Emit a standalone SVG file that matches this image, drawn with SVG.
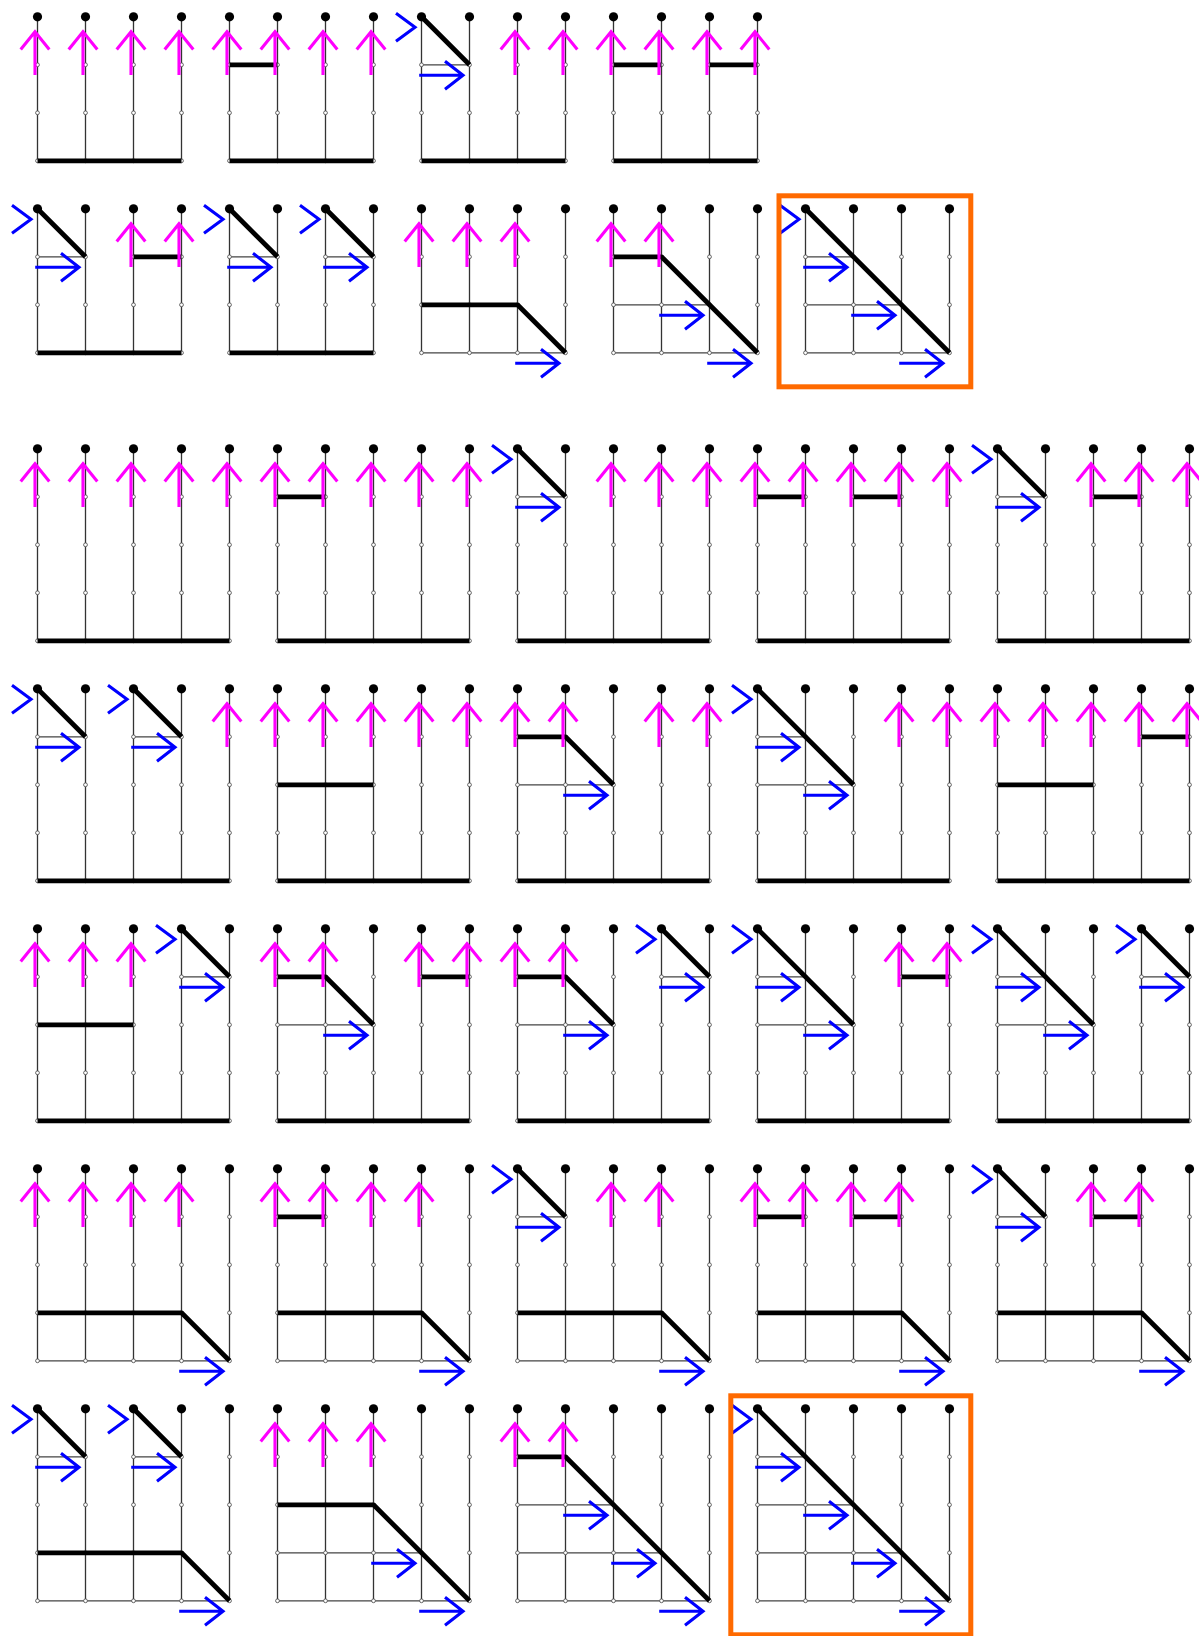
<svg xmlns="http://www.w3.org/2000/svg" xmlns:xlink="http://www.w3.org/1999/xlink" width="1199" height="1636" viewBox="0 0 1199 1636">
<style>
.v{stroke:#333;stroke-width:1.3;fill:none}
.tn{stroke:#444;stroke-width:1.3;fill:none}
.tk{stroke:#000;stroke-width:4.8;fill:none;stroke-linejoin:round}
.c{fill:#fff;stroke:#555;stroke-width:0.9}
.d{fill:#000}
.pk{stroke:#FF00FF;stroke-width:3.1;fill:none}
.bl{stroke:#0000FF;stroke-width:3.1;fill:none}
.ob{stroke:#FF6A00;stroke-width:5;fill:none}
</style>
<defs>
<g id="v4" class="v"><path d="M0,0V144M48,0V144M96,0V144M144,0V144"/></g>
<g id="c4">
<g class="c"><circle cx="0" cy="48" r="1.9"/><circle cx="48" cy="48" r="1.9"/><circle cx="96" cy="48" r="1.9"/><circle cx="144" cy="48" r="1.9"/><circle cx="0" cy="96" r="1.9"/><circle cx="48" cy="96" r="1.9"/><circle cx="96" cy="96" r="1.9"/><circle cx="144" cy="96" r="1.9"/><circle cx="0" cy="144" r="1.9"/><circle cx="48" cy="144" r="1.9"/><circle cx="96" cy="144" r="1.9"/><circle cx="144" cy="144" r="1.9"/></g>
<g class="d"><circle cx="0" cy="0" r="4.6"/><circle cx="48" cy="0" r="4.6"/><circle cx="96" cy="0" r="4.6"/><circle cx="144" cy="0" r="4.6"/></g>
</g>
<g id="v5" class="v"><path d="M0,0V192M48,0V192M96,0V192M144,0V192M192,0V192"/></g>
<g id="c5">
<g class="c"><circle cx="0" cy="48" r="1.9"/><circle cx="48" cy="48" r="1.9"/><circle cx="96" cy="48" r="1.9"/><circle cx="144" cy="48" r="1.9"/><circle cx="192" cy="48" r="1.9"/><circle cx="0" cy="96" r="1.9"/><circle cx="48" cy="96" r="1.9"/><circle cx="96" cy="96" r="1.9"/><circle cx="144" cy="96" r="1.9"/><circle cx="192" cy="96" r="1.9"/><circle cx="0" cy="144" r="1.9"/><circle cx="48" cy="144" r="1.9"/><circle cx="96" cy="144" r="1.9"/><circle cx="144" cy="144" r="1.9"/><circle cx="192" cy="144" r="1.9"/><circle cx="0" cy="192" r="1.9"/><circle cx="48" cy="192" r="1.9"/><circle cx="96" cy="192" r="1.9"/><circle cx="144" cy="192" r="1.9"/><circle cx="192" cy="192" r="1.9"/></g>
<g class="d"><circle cx="0" cy="0" r="4.6"/><circle cx="48" cy="0" r="4.6"/><circle cx="96" cy="0" r="4.6"/><circle cx="144" cy="0" r="4.6"/><circle cx="192" cy="0" r="4.6"/></g>
</g>
<path id="pa" class="pk" d="M-2.5,58.3V15M-16.8,32.6L-2.5,15L11.8,32.6"/>
<path id="ba" class="bl" d="M-2.3,10.5H41.5M23.5,-3.5L41.5,10.5L23.5,24.5"/>
<path id="bc" class="bl" d="M-25.5,-3.5L-6.5,10.5L-25.5,24.5"/>
</defs>

<!-- Row A -->
<g id="A1" transform="translate(37.5,16.8)">
<use href="#v4"/><use href="#c4"/>
<path class="tk" d="M0,144H144"/>
<use href="#pa" x="0"/><use href="#pa" x="48"/><use href="#pa" x="96"/><use href="#pa" x="144"/>
</g>
<g id="A2" transform="translate(229.5,16.8)">
<use href="#v4"/><use href="#c4"/>
<path class="tk" d="M0,48H48M0,144H144"/>
<use href="#pa" x="0"/><use href="#pa" x="48"/><use href="#pa" x="96"/><use href="#pa" x="144"/>
</g>
<g id="A3" transform="translate(421.5,16.8)">
<use href="#v4"/><path class="tn" d="M0,48H48"/><use href="#c4"/>
<path class="tk" d="M0,0L48,48M0,144H144"/>
<use href="#bc" x="0"/><use href="#ba" x="0" y="48"/>
<use href="#pa" x="96"/><use href="#pa" x="144"/>
</g>
<g id="A4" transform="translate(613.5,16.8)">
<use href="#v4"/><use href="#c4"/>
<path class="tk" d="M0,48H48M96,48H144M0,144H144"/>
<use href="#pa" x="0"/><use href="#pa" x="48"/><use href="#pa" x="96"/><use href="#pa" x="144"/>
</g>

<!-- Row B -->
<g id="B1" transform="translate(37.5,208.8)">
<use href="#v4"/><path class="tn" d="M0,48H48"/><use href="#c4"/>
<path class="tk" d="M0,0L48,48M96,48H144M0,144H144"/>
<use href="#bc" x="0"/><use href="#ba" x="0" y="48"/>
<use href="#pa" x="96"/><use href="#pa" x="144"/>
</g>
<g id="B2" transform="translate(229.5,208.8)">
<use href="#v4"/><path class="tn" d="M0,48H48M96,48H144"/><use href="#c4"/>
<path class="tk" d="M0,0L48,48M96,0L144,48M0,144H144"/>
<use href="#bc" x="0"/><use href="#ba" x="0" y="48"/>
<use href="#bc" x="96"/><use href="#ba" x="96" y="48"/>
</g>
<g id="B3" transform="translate(421.5,208.8)">
<use href="#v4"/><path class="tn" d="M0,144H144"/><use href="#c4"/>
<path class="tk" d="M0,96H96L144,144"/>
<use href="#pa" x="0"/><use href="#pa" x="48"/><use href="#pa" x="96"/>
<use href="#ba" x="96" y="144"/>
</g>
<g id="B4" transform="translate(613.5,208.8)">
<use href="#v4"/><path class="tn" d="M0,96H96M0,144H144"/><use href="#c4"/>
<path class="tk" d="M0,48H48L144,144"/>
<use href="#pa" x="0"/><use href="#pa" x="48"/>
<use href="#ba" x="48" y="96"/><use href="#ba" x="96" y="144"/>
</g>
<g id="B5" transform="translate(805.5,208.8)">
<use href="#v4"/><path class="tn" d="M0,48H48M0,96H96M0,144H144"/><use href="#c4"/>
<path class="tk" d="M0,0L144,144"/>
<use href="#bc" x="0"/><use href="#ba" x="0" y="48"/><use href="#ba" x="48" y="96"/><use href="#ba" x="96" y="144"/>
<rect class="ob" x="-26.5" y="-13" width="191.8" height="191"/>
</g>

<!-- Row C -->
<g id="C1" transform="translate(37.5,448.8)">
<use href="#v5"/><use href="#c5"/>
<path class="tk" d="M0,192H192"/>
<use href="#pa" x="0"/><use href="#pa" x="48"/><use href="#pa" x="96"/><use href="#pa" x="144"/><use href="#pa" x="192"/>
</g>
<g id="C2" transform="translate(277.5,448.8)">
<use href="#v5"/><use href="#c5"/>
<path class="tk" d="M0,48H48M0,192H192"/>
<use href="#pa" x="0"/><use href="#pa" x="48"/><use href="#pa" x="96"/><use href="#pa" x="144"/><use href="#pa" x="192"/>
</g>
<g id="C3" transform="translate(517.5,448.8)">
<use href="#v5"/><path class="tn" d="M0,48H48"/><use href="#c5"/>
<path class="tk" d="M0,0L48,48M0,192H192"/>
<use href="#bc" x="0"/><use href="#ba" x="0" y="48"/>
<use href="#pa" x="96"/><use href="#pa" x="144"/><use href="#pa" x="192"/>
</g>
<g id="C4" transform="translate(757.5,448.8)">
<use href="#v5"/><use href="#c5"/>
<path class="tk" d="M0,48H48M96,48H144M0,192H192"/>
<use href="#pa" x="0"/><use href="#pa" x="48"/><use href="#pa" x="96"/><use href="#pa" x="144"/><use href="#pa" x="192"/>
</g>
<g id="C5" transform="translate(997.5,448.8)">
<use href="#v5"/><path class="tn" d="M0,48H48"/><use href="#c5"/>
<path class="tk" d="M0,0L48,48M96,48H144M0,192H192"/>
<use href="#bc" x="0"/><use href="#ba" x="0" y="48"/>
<use href="#pa" x="96"/><use href="#pa" x="144"/><use href="#pa" x="192"/>
</g>

<!-- Row D -->
<g id="D1" transform="translate(37.5,688.8)">
<use href="#v5"/><path class="tn" d="M0,48H48M96,48H144"/><use href="#c5"/>
<path class="tk" d="M0,0L48,48M96,0L144,48M0,192H192"/>
<use href="#bc" x="0"/><use href="#ba" x="0" y="48"/>
<use href="#bc" x="96"/><use href="#ba" x="96" y="48"/>
<use href="#pa" x="192"/>
</g>
<g id="D2" transform="translate(277.5,688.8)">
<use href="#v5"/><use href="#c5"/>
<path class="tk" d="M0,96H96M0,192H192"/>
<use href="#pa" x="0"/><use href="#pa" x="48"/><use href="#pa" x="96"/><use href="#pa" x="144"/><use href="#pa" x="192"/>
</g>
<g id="D3" transform="translate(517.5,688.8)">
<use href="#v5"/><path class="tn" d="M0,96H96"/><use href="#c5"/>
<path class="tk" d="M0,48H48L96,96M0,192H192"/>
<use href="#pa" x="0"/><use href="#pa" x="48"/><use href="#pa" x="144"/><use href="#pa" x="192"/>
<use href="#ba" x="48" y="96"/>
</g>
<g id="D4" transform="translate(757.5,688.8)">
<use href="#v5"/><path class="tn" d="M0,48H48M0,96H96"/><use href="#c5"/>
<path class="tk" d="M0,0L96,96M0,192H192"/>
<use href="#bc" x="0"/><use href="#ba" x="0" y="48"/><use href="#ba" x="48" y="96"/>
<use href="#pa" x="144"/><use href="#pa" x="192"/>
</g>
<g id="D5" transform="translate(997.5,688.8)">
<use href="#v5"/><use href="#c5"/>
<path class="tk" d="M0,96H96M144,48H192M0,192H192"/>
<use href="#pa" x="0"/><use href="#pa" x="48"/><use href="#pa" x="96"/><use href="#pa" x="144"/><use href="#pa" x="192"/>
</g>

<!-- Row E -->
<g id="E1" transform="translate(37.5,928.8)">
<use href="#v5"/><path class="tn" d="M144,48H192"/><use href="#c5"/>
<path class="tk" d="M0,96H96M144,0L192,48M0,192H192"/>
<use href="#pa" x="0"/><use href="#pa" x="48"/><use href="#pa" x="96"/>
<use href="#bc" x="144"/><use href="#ba" x="144" y="48"/>
</g>
<g id="E2" transform="translate(277.5,928.8)">
<use href="#v5"/><path class="tn" d="M0,96H96"/><use href="#c5"/>
<path class="tk" d="M0,48H48L96,96M144,48H192M0,192H192"/>
<use href="#pa" x="0"/><use href="#pa" x="48"/><use href="#pa" x="144"/><use href="#pa" x="192"/>
<use href="#ba" x="48" y="96"/>
</g>
<g id="E3" transform="translate(517.5,928.8)">
<use href="#v5"/><path class="tn" d="M0,96H96M144,48H192"/><use href="#c5"/>
<path class="tk" d="M0,48H48L96,96M144,0L192,48M0,192H192"/>
<use href="#pa" x="0"/><use href="#pa" x="48"/>
<use href="#ba" x="48" y="96"/>
<use href="#bc" x="144"/><use href="#ba" x="144" y="48"/>
</g>
<g id="E4" transform="translate(757.5,928.8)">
<use href="#v5"/><path class="tn" d="M0,48H48M0,96H96"/><use href="#c5"/>
<path class="tk" d="M0,0L96,96M144,48H192M0,192H192"/>
<use href="#bc" x="0"/><use href="#ba" x="0" y="48"/><use href="#ba" x="48" y="96"/>
<use href="#pa" x="144"/><use href="#pa" x="192"/>
</g>
<g id="E5" transform="translate(997.5,928.8)">
<use href="#v5"/><path class="tn" d="M0,48H48M0,96H96M144,48H192"/><use href="#c5"/>
<path class="tk" d="M0,0L96,96M144,0L192,48M0,192H192"/>
<use href="#bc" x="0"/><use href="#ba" x="0" y="48"/><use href="#ba" x="48" y="96"/>
<use href="#bc" x="144"/><use href="#ba" x="144" y="48"/>
</g>

<!-- Row F -->
<g id="F1" transform="translate(37.5,1168.8)">
<use href="#v5"/><path class="tn" d="M0,192H192"/><use href="#c5"/>
<path class="tk" d="M0,144H144L192,192"/>
<use href="#pa" x="0"/><use href="#pa" x="48"/><use href="#pa" x="96"/><use href="#pa" x="144"/>
<use href="#ba" x="144" y="192"/>
</g>
<g id="F2" transform="translate(277.5,1168.8)">
<use href="#v5"/><path class="tn" d="M0,192H192"/><use href="#c5"/>
<path class="tk" d="M0,48H48M0,144H144L192,192"/>
<use href="#pa" x="0"/><use href="#pa" x="48"/><use href="#pa" x="96"/><use href="#pa" x="144"/>
<use href="#ba" x="144" y="192"/>
</g>
<g id="F3" transform="translate(517.5,1168.8)">
<use href="#v5"/><path class="tn" d="M0,48H48M0,192H192"/><use href="#c5"/>
<path class="tk" d="M0,0L48,48M0,144H144L192,192"/>
<use href="#bc" x="0"/><use href="#ba" x="0" y="48"/>
<use href="#pa" x="96"/><use href="#pa" x="144"/>
<use href="#ba" x="144" y="192"/>
</g>
<g id="F4" transform="translate(757.5,1168.8)">
<use href="#v5"/><path class="tn" d="M0,192H192"/><use href="#c5"/>
<path class="tk" d="M0,48H48M96,48H144M0,144H144L192,192"/>
<use href="#pa" x="0"/><use href="#pa" x="48"/><use href="#pa" x="96"/><use href="#pa" x="144"/>
<use href="#ba" x="144" y="192"/>
</g>
<g id="F5" transform="translate(997.5,1168.8)">
<use href="#v5"/><path class="tn" d="M0,48H48M0,192H192"/><use href="#c5"/>
<path class="tk" d="M0,0L48,48M96,48H144M0,144H144L192,192"/>
<use href="#bc" x="0"/><use href="#ba" x="0" y="48"/>
<use href="#pa" x="96"/><use href="#pa" x="144"/>
<use href="#ba" x="144" y="192"/>
</g>

<!-- Row G -->
<g id="G1" transform="translate(37.5,1408.8)">
<use href="#v5"/><path class="tn" d="M0,48H48M96,48H144M0,192H192"/><use href="#c5"/>
<path class="tk" d="M0,0L48,48M96,0L144,48M0,144H144L192,192"/>
<use href="#bc" x="0"/><use href="#ba" x="0" y="48"/>
<use href="#bc" x="96"/><use href="#ba" x="96" y="48"/>
<use href="#ba" x="144" y="192"/>
</g>
<g id="G2" transform="translate(277.5,1408.8)">
<use href="#v5"/><path class="tn" d="M0,144H144M0,192H192"/><use href="#c5"/>
<path class="tk" d="M0,96H96L192,192"/>
<use href="#pa" x="0"/><use href="#pa" x="48"/><use href="#pa" x="96"/>
<use href="#ba" x="96" y="144"/><use href="#ba" x="144" y="192"/>
</g>
<g id="G3" transform="translate(517.5,1408.8)">
<use href="#v5"/><path class="tn" d="M0,96H96M0,144H144M0,192H192"/><use href="#c5"/>
<path class="tk" d="M0,48H48L192,192"/>
<use href="#pa" x="0"/><use href="#pa" x="48"/>
<use href="#ba" x="48" y="96"/><use href="#ba" x="96" y="144"/><use href="#ba" x="144" y="192"/>
</g>
<g id="G4" transform="translate(757.5,1408.8)">
<use href="#v5"/><path class="tn" d="M0,48H48M0,96H96M0,144H144M0,192H192"/><use href="#c5"/>
<path class="tk" d="M0,0L192,192"/>
<use href="#bc" x="0"/><use href="#ba" x="0" y="48"/><use href="#ba" x="48" y="96"/><use href="#ba" x="96" y="144"/><use href="#ba" x="144" y="192"/>
<rect class="ob" x="-26.7" y="-13" width="240" height="239"/>
</g>
</svg>
